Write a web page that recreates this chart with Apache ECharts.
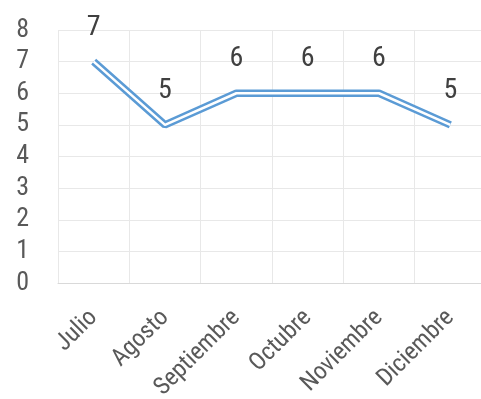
<!DOCTYPE html>
<html><head><meta charset="utf-8">
<script src="https://cdn.jsdelivr.net/npm/echarts@6/dist/echarts.min.js"></script>
<style>html,body{margin:0;padding:0;background:#fff}#c{width:481px;height:399px}</style>
</head><body><div id="c"></div>
<script>
var categories = ["Julio","Agosto","Septiembre","Octubre","Noviembre","Diciembre"];
var values = [7,5,6,6,6,5];
var yTicks = {min:0,max:8,interval:1};
var font = "'Roboto Condensed','Liberation Sans',sans-serif";
var chart = echarts.init(document.getElementById('c'));
chart.setOption({
  animation:false,
  grid:{left:58,top:30,bottom:116,width:428,containLabel:false,outerBoundsMode:'none'},
  xAxis:{type:'category',data:categories,boundaryGap:true,
    axisLine:{lineStyle:{color:'#d9d9d9'}},axisTick:{show:false},
    splitLine:{show:true,lineStyle:{color:'#e8e8e8'}},
    axisLabel:{rotate:45,interval:0,fontSize:24.5,color:'#595959',fontFamily:font,margin:31}},
  yAxis:{type:'value',min:yTicks.min,max:yTicks.max,interval:yTicks.interval,
    axisLine:{show:false},axisTick:{show:false},
    splitLine:{lineStyle:{color:'#e8e8e8'}},
    axisLabel:{fontSize:26,color:'#595959',fontFamily:font,margin:29}},
  series:[
    {type:'line',data:values,symbol:'circle',symbolSize:2,showSymbol:true,
     itemStyle:{color:'rgba(0,0,0,0)',borderWidth:0},
     lineStyle:{color:'#5b9bd5',width:7.5},
     label:{show:true,position:'top',distance:19,fontSize:28,color:'#404040',fontFamily:font},z:2},
    {type:'line',data:values,symbol:'none',lineStyle:{color:'#ffffff',width:2.5},z:3}
  ]
});
</script></body></html>
